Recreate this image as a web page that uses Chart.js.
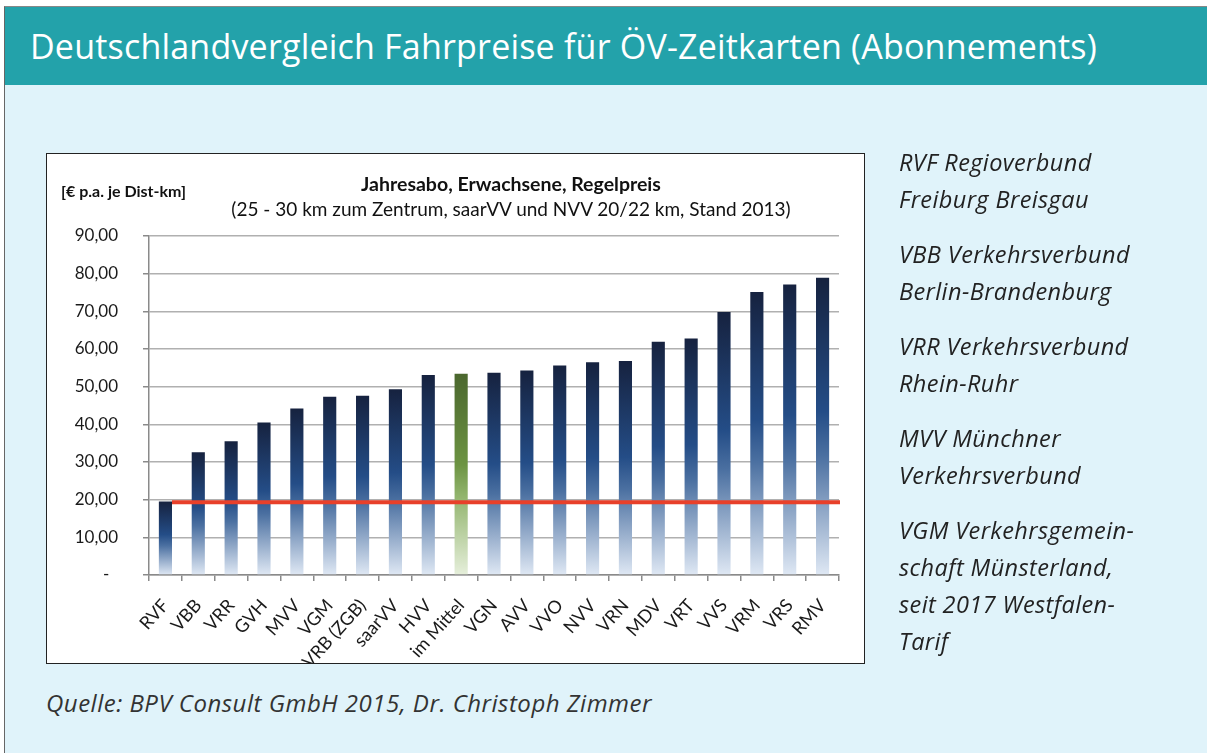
<!DOCTYPE html>
<html>
<head>
<meta charset="utf-8">
<script src="https://cdn.jsdelivr.net/npm/chart.js@4.4.1/dist/chart.umd.min.js"></script>
<style>
  body { margin: 0; width: 1207px; height: 753px; background: #fff; overflow: hidden; }
  .frame { position: absolute; left: 4px; top: 6px; width: 1203px; height: 747px;
           border-left: 1px solid #666; border-top: 1px solid #888; background: #e0f3fa; }
  .header { position: absolute; left: 5px; top: 7px; width: 1202px; height: 78px; background: #23a2aa; }
  .header h1 { margin: 0; position: absolute; left: 25px; top: 16px; font: 400 34px "Open Sans", sans-serif;
               color: #fff; white-space: nowrap; letter-spacing: 0.2px; }
  .box { position: absolute; left: 46px; top: 153px; width: 817px; height: 509px;
         border: 1px solid #222; background: #fff; }
  .box canvas { position: absolute; left: 0; top: 0; }
  .unit { position: absolute; left: 14px; top: 27px; font: 700 16px Lato, sans-serif; color: #111; }
  .t1 { position: absolute; left: 0; width: 928px; text-align: center; top: 18px;
        font: 700 19.5px Lato, sans-serif; color: #111; }
  .t2 { position: absolute; left: 0; width: 928px; text-align: center; top: 43px;
        font: 400 19px Lato, sans-serif; color: #111; }
  .side { position: absolute; left: 899px; top: 144px; font: italic 400 23.5px "Open Sans", sans-serif;
          color: #222; line-height: 37px; letter-spacing: 0.4px; }
  .side p { margin: 0 0 18px 0; }
  .src { position: absolute; left: 46px; top: 686px; font: italic 400 24px "Open Sans", sans-serif;
         color: #333; letter-spacing: 0.5px; white-space: nowrap; }
</style>
</head>
<body>
<div class="frame"></div>
<div class="header"><h1>Deutschlandvergleich Fahrpreise für ÖV-Zeitkarten (Abonnements)</h1></div>
<div class="box">
  <canvas id="myChart" width="817" height="509"></canvas>
  <div class="unit">[€ p.a. je Dist-km]</div>
  <div class="t1">Jahresabo, Erwachsene, Regelpreis</div>
  <div class="t2">(25 - 30 km zum Zentrum, saarVV und NVV 20/22 km, Stand 2013)</div>
</div>
<div class="side">
  <p>RVF Regioverbund<br>Freiburg Breisgau</p>
  <p>VBB Verkehrsverbund<br>Berlin-Brandenburg</p>
  <p>VRR Verkehrsverbund<br>Rhein-Ruhr</p>
  <p>MVV Münchner<br>Verkehrsverbund</p>
  <p>VGM Verkehrsgemein-<br>schaft Münsterland,<br>seit 2017 Westfalen-<br>Tarif</p>
</div>
<div class="src">Quelle: BPV Consult GmbH 2015, Dr. Christoph Zimmer</div>

<script>
const labels = ["RVF", "VBB", "VRR", "GVH", "MVV", "VGM", "VRB (ZGB)", "saarVV", "HVV", "im Mittel",
    "VGN", "AVV", "VVO", "NVV", "VRN", "MDV", "VRT", "VVS", "VRM", "VRS", "RMV"];
const prices = [19.5, 32.6, 35.5, 40.5, 44.2, 47.3, 47.6, 49.3, 53.1, 53.4,
    53.7, 54.3, 55.6, 56.5, 56.8, 61.9, 62.8, 69.8, 75.1, 77.1, 78.9];
const meanLabel = "im Mittel";
const limitValue = 19.3; // red line = RVF level
const yTicks = [0, 10, 20, 30, 40, 50, 60, 70, 80, 90];

const blueStops = [[0, "#16223f"], [0.45, "#244d87"], [0.6, "#4b70a1"], [1, "#dfe8f4"]];
const greenStops = [[0, "#4b672e"], [0.45, "#6c9342"], [0.6, "#90b36b"], [1, "#e6efdb"]];

function barFill(context) {
    const chart = context.chart;
    if (!chart.chartArea || context.raw == null) return "#244d87";
    const y = chart.scales.y;
    const g = chart.ctx.createLinearGradient(0, y.getPixelForValue(context.raw), 0, y.getPixelForValue(0));
    const stops = labels[context.dataIndex] === meanLabel ? greenStops : blueStops;
    stops.forEach(s => g.addColorStop(s[0], s[1]));
    return g;
}

const redLine = {
    id: "redLine",
    afterDatasetsDraw(chart) {
        const bar = chart.getDatasetMeta(0).data[0];
        const y = chart.scales.y.getPixelForValue(limitValue);
        const ctx = chart.ctx;
        ctx.save();
        ctx.strokeStyle = "#e8402a";
        ctx.lineWidth = 4;
        ctx.beginPath();
        ctx.moveTo(bar.x + bar.width / 2, y);
        ctx.lineTo(chart.chartArea.right + 1, y);
        ctx.stroke();
        ctx.restore();
    }
};

let myChart = new Chart("myChart", {
    type: "bar",
    data: {
        labels: labels,
        datasets: [{
            data: prices,
            backgroundColor: barFill,
            borderWidth: 0,
            barPercentage: 0.4,
            categoryPercentage: 1
        }]
    },
    options: {
        responsive: false,
        animation: false,
        layout: {padding: {top: 82, right: 25, left: 0, bottom: 0}},
        plugins: {legend: {display: false}, tooltip: {enabled: false}},
        scales: {
            x: {
                afterFit: s => { s.height = 88; },
                grid: {
                    offset: true,
                    color: c => c.index === labels.length ? "#a8a8a8" : "rgba(0,0,0,0)",
                    tickColor: "#8a8a8a",
                    tickLength: 6,
                    lineWidth: 1.5
                },
                border: {display: true, color: "#8a8a8a", width: 1.5},
                ticks: {
                    minRotation: 48, maxRotation: 48, autoSkip: false, padding: 14,
                    color: "#1a1a1a", font: {family: "Lato", size: 18}
                }
            },
            y: {
                min: 0, max: 90,
                afterFit: s => { s.width = 102; },
                afterBuildTicks: s => { s.ticks = yTicks.map(v => ({value: v})); },
                grid: {color: "#b0b0b0", lineWidth: 1.5, tickLength: 6, tickColor: "#8a8a8a"},
                border: {display: true, color: "#8a8a8a", width: 1.5},
                ticks: {
                    padding: 25, color: "#1a1a1a", font: {family: "Lato", size: 17},
                    callback: v => v === 0 ? "-  " : v.toFixed(2).replace(".", ",")
                }
            }
        }
    },
    plugins: [redLine]
});
</script>
</body>
</html>
